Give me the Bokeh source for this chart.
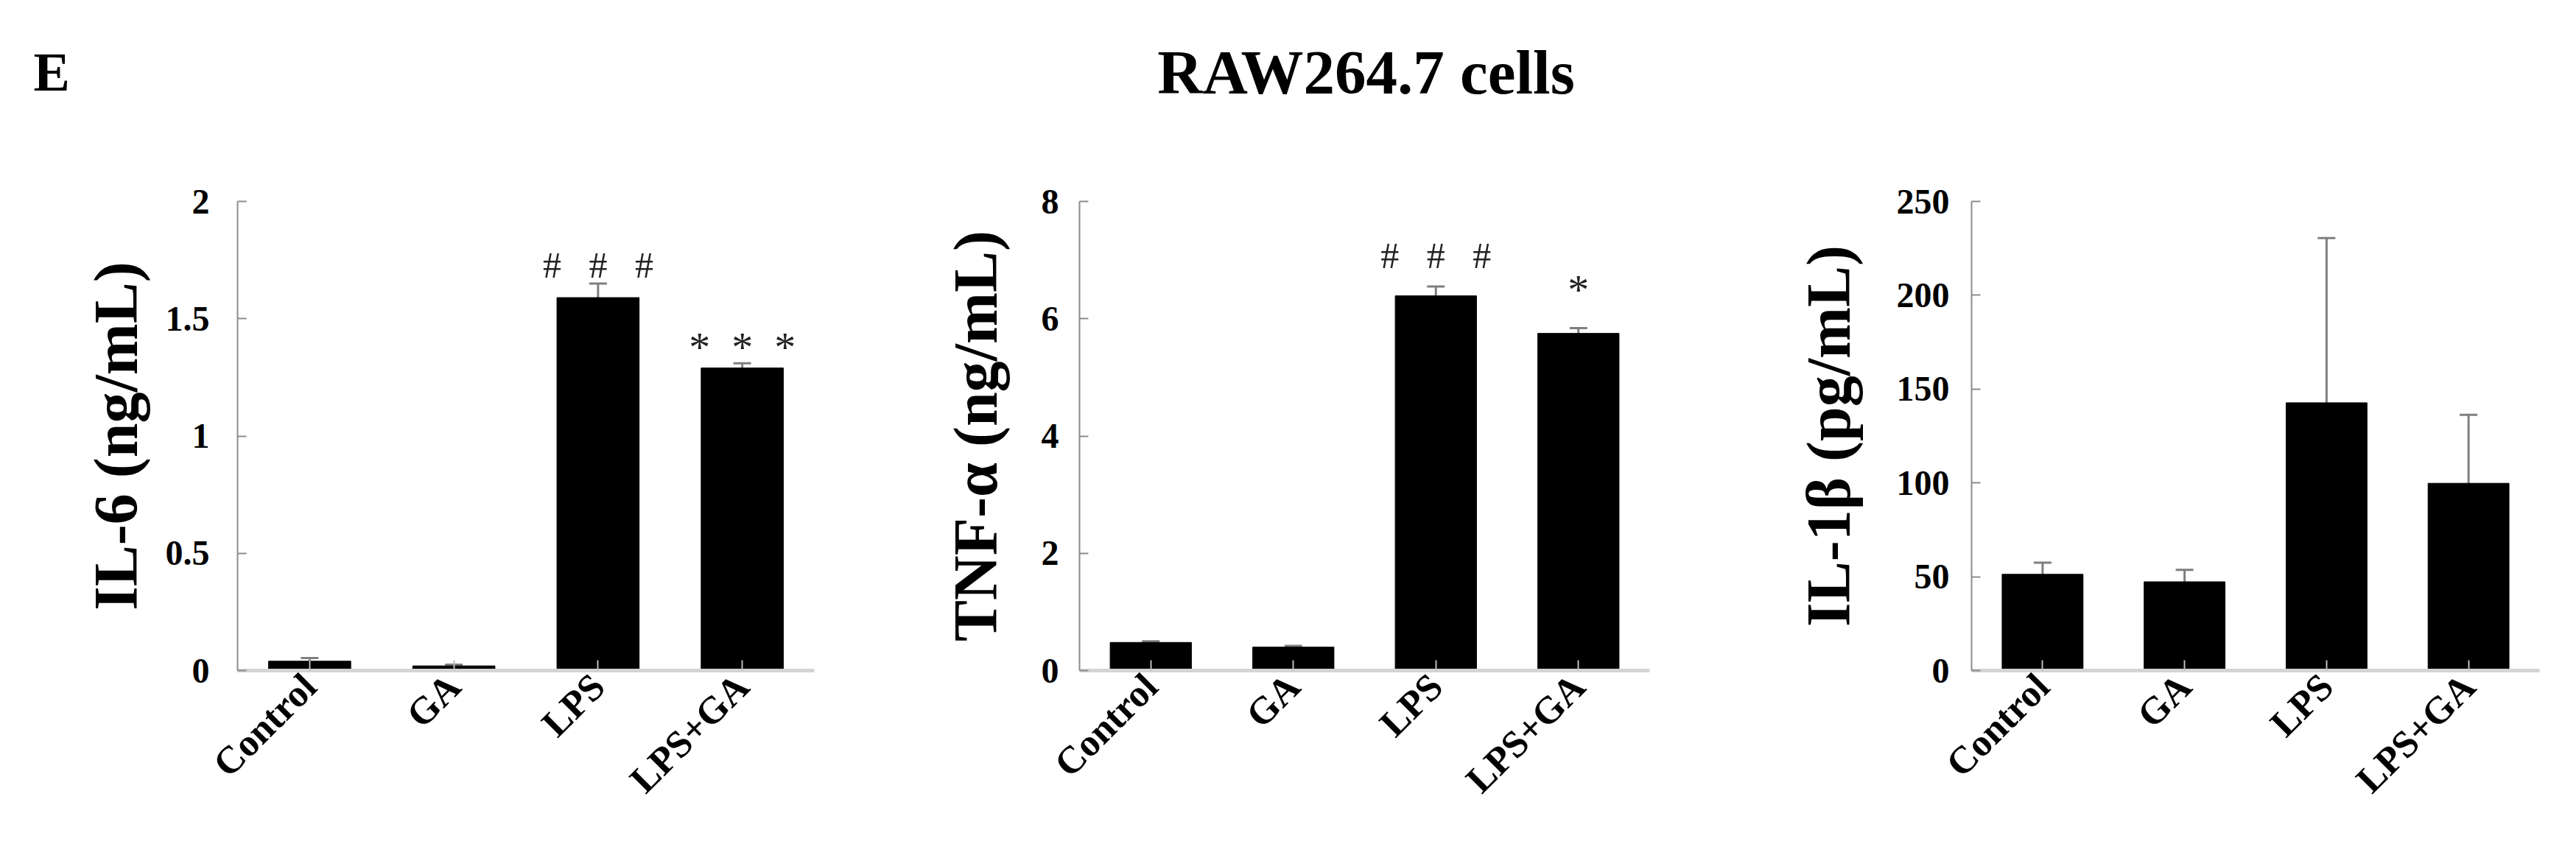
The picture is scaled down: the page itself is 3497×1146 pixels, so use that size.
import math
from bokeh.plotting import figure
from bokeh.layouts import column, row
from bokeh.models import ColumnDataSource, Whisker, TeeHead, Range1d, FixedTicker
from bokeh.core.properties import value
from bokeh.embed import file_html
from bokeh.resources import INLINE

# ---------------- data ----------------
groups = ["Control", "GA", "LPS", "LPS+GA"]

NB = "\u00a0"
HASH3 = ("#" + NB * 3) * 2 + "#"
STAR3 = ("*" + NB * 2) * 2 + "*"

il6_mean = [0.04, 0.02, 1.59, 1.29]
il6_err = [0.013, 0.005, 0.06, 0.02]
il6_marks = ["", "", HASH3, STAR3]
il6_ticks = [0, 0.5, 1, 1.5, 2]
il6_tick_labels = ["0", "0.5", "1", "1.5", "2"]

tnf_mean = [0.48, 0.40, 6.39, 5.75]
tnf_err = [0.02, 0.02, 0.16, 0.09]
tnf_marks = ["", "", HASH3, "*"]
tnf_ticks = [0, 2, 4, 6, 8]
tnf_tick_labels = ["0", "2", "4", "6", "8"]

il1b_mean = [51.3, 47.3, 142.7, 99.8]
il1b_err = [6.2, 6.4, 87.8, 36.5]
il1b_marks = ["", "", "", ""]
il1b_ticks = [0, 50, 100, 150, 200, 250]
il1b_tick_labels = ["0", "50", "100", "150", "200", "250"]

title_text = "RAW264.7 cells"
panel_letter = "E"

FONT = "Liberation Serif"
HEAD_H = 170
PANEL_H = 940


def make_panel(ylabel, means, errs, marks, ticks, tick_labels, width,
               bl, br, tick_standoff, label_standoff, mark_offsets):
    upper = [m + e for m, e in zip(means, errs)]
    sizes = ["50px" if m.startswith("#") else "58px" for m in marks]
    src = ColumnDataSource(dict(x=groups, top=means, upper=upper, mark=marks,
                                off=mark_offsets, fs=sizes))
    p = figure(width=width, height=PANEL_H, x_range=groups,
               y_range=Range1d(0, ticks[-1]), title=None,
               output_backend="svg", toolbar_location=None,
               min_border_left=bl, min_border_right=br,
               min_border_top=103, min_border_bottom=150)
    p.outline_line_color = None
    p.xgrid.visible = False
    p.ygrid.visible = False
    p.background_fill_color = "white"
    p.border_fill_color = "white"

    p.vbar(x="x", top="top", width=0.57, source=src,
           fill_color="black", line_color="black")

    w = Whisker(base="x", lower="top", upper="upper", source=src,
                dimension="height", line_color="#7f7f7f", line_width=3,
                upper_head=TeeHead(size=24, line_color="#7f7f7f", line_width=3),
                lower_head=None)
    p.add_layout(w)

    p.text(x="x", y="upper", text="mark", y_offset="off", source=src,
           text_font=value(FONT), text_font_size="fs",
           text_align="center", text_baseline="alphabetic",
           text_color="#222222")

    ya = p.yaxis[0]
    ya.ticker = FixedTicker(ticks=ticks)
    ya.major_label_overrides = dict(zip(ticks, tick_labels))
    ya.axis_line_color = "#8c8c8c"
    ya.axis_line_width = 2
    ya.major_tick_in = 12
    ya.major_tick_out = 0
    ya.major_tick_line_color = "#8c8c8c"
    ya.major_tick_line_width = 2
    ya.minor_tick_line_color = None
    ya.major_label_text_font = FONT
    ya.major_label_text_font_size = "48px"
    ya.major_label_text_font_style = "bold"
    ya.major_label_text_color = "black"
    ya.major_label_standoff = tick_standoff
    ya.axis_label = ylabel
    ya.axis_label_text_font = FONT
    ya.axis_label_text_font_size = "84px"
    ya.axis_label_text_font_style = "bold"
    ya.axis_label_text_color = "black"
    ya.axis_label_standoff = label_standoff

    xa = p.xaxis[0]
    xa.major_label_orientation = math.pi / 4
    xa.axis_line_color = "#d4d4d4"
    xa.axis_line_width = 5
    xa.major_tick_in = 14
    xa.major_tick_out = 0
    xa.major_tick_line_color = "#bdbdbd"
    xa.major_tick_line_width = 2
    xa.major_label_text_font = FONT
    xa.major_label_text_font_size = "52px"
    xa.major_label_text_font_style = "bold"
    xa.major_label_text_color = "black"
    xa.major_label_standoff = 13
    return p


p1 = make_panel("IL-6 (ng/mL)", il6_mean, il6_err, il6_marks, il6_ticks,
                il6_tick_labels, 1182, 322, 77, 38, 18, [0, 0, -25, -22])
p2 = make_panel("TNF-α (ng/mL)", tnf_mean, tnf_err, tnf_marks, tnf_ticks,
                tnf_tick_labels, 1190, 283, 133, 28, 40, [0, 0, -42, -52])
p3 = make_panel("IL-1β (pg/mL)", il1b_mean, il1b_err, il1b_marks, il1b_ticks,
                il1b_tick_labels, 1106, 304, 31, 30, 43, [0, 0, 0, 0])

# header with panel letter and title
h = figure(width=3478, height=HEAD_H, x_range=Range1d(0, 3478), y_range=Range1d(0, HEAD_H),
           title=None, output_backend="svg", toolbar_location=None, min_border=0,
           x_axis_location=None, y_axis_location=None)
h.outline_line_color = None
h.xgrid.visible = False
h.ygrid.visible = False
h.text(x=[45], y=[73], text=[panel_letter], text_font=value(FONT),
       text_font_size="74px", text_font_style="bold", text_align="left",
       text_baseline="alphabetic", text_color="black")
h.text(x=[1854], y=[73], text=[title_text], text_font=value(FONT),
       text_font_size="85px", text_font_style="bold", text_align="center",
       text_baseline="alphabetic", text_color="black")

layout = column(h, row(p1, p2, p3))
open("out.html", "w").write(file_html(layout, INLINE))
